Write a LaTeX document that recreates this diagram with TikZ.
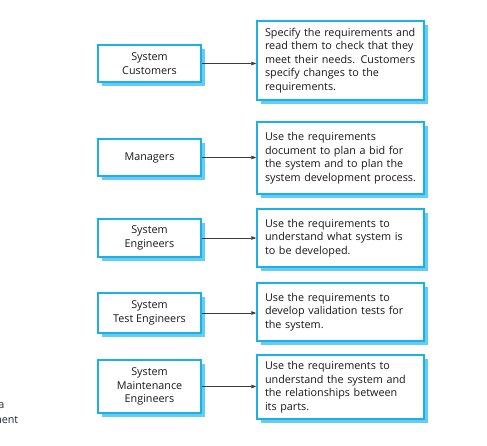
\documentclass[tikz,border=0pt]{standalone}
\usepackage{fontspec}
\setmainfont{Open Sans}
\usetikzlibrary{arrows.meta,shadows}
\definecolor{bordercyan}{HTML}{1AB0EA}
\definecolor{shadowblue}{HTML}{66CCF2}
\definecolor{txt}{HTML}{1A1718}
\definecolor{captxt}{HTML}{1F2A44}
\definecolor{arrowgray}{HTML}{3A3A3A}
\tikzset{
  box/.style={draw=bordercyan, line width=1.5pt, fill=white, rectangle, inner sep=0pt,
    drop shadow={shadow xshift=4pt, shadow yshift=-4pt, fill=shadowblue, opacity=1},
    font=\fontsize{10.8}{13.6}\selectfont, text=txt},
  rolebox/.style={box, minimum width=103pt, align=center},
  usebox/.style={box, minimum width=167pt, text width=151pt, align=left},
  link/.style={draw=arrowgray, line width=0.8pt, -{Triangle[length=5pt,width=3.5pt]}},
}
\begin{document}
\begin{tikzpicture}[x=1pt,y=-1pt]
\useasboundingbox (0,0) rectangle (487,445);
% left role boxes
\node[rolebox, minimum height=37pt] (l1) at (149.5,63.5) {System\\Customers};
\node[rolebox, minimum height=37pt] (l2) at (149.5,157.5) {Managers};
\node[rolebox, minimum height=38pt] (l3) at (149.5,238) {System\\Engineers};
\node[rolebox, minimum height=40pt] (l4) at (149.5,313) {System\\Test Engineers};
\node[rolebox, minimum height=53pt] (l5) at (149.5,386.5) {System\\Maintenance\\Engineers};
% right use boxes
\node[usebox, minimum height=79pt] (r1) at (340.5,60.5) {Specify the requirements and\\read them to check that they\\meet their needs. Customers\\specify changes to the\\requirements.};
\node[usebox, minimum height=72pt] (r2) at (340.5,158) {Use the requirements\\document to plan a bid for\\the system and to plan the\\system development process.};
\node[usebox, minimum height=58pt] (r3) at (340.5,238) {Use the requirements to\\understand what system is\\to be developed.};
\node[usebox, minimum height=58pt] (r4) at (340.5,312) {Use the requirements to\\develop validation tests for\\the system.};
\node[usebox, minimum height=64pt] (r5) at (340.5,387) {Use the requirements to\\understand the system and\\the relationships between\\its parts.};
% connectors
\draw[link] (l1.east) -- (l1.east -| r1.west);
\draw[link] (l2.east) -- (l2.east -| r2.west);
\draw[link] (l3.east) -- (l3.east -| r3.west);
\draw[link] (l4.east) -- (l4.east -| r4.west);
\draw[link] (l5.east) -- (l5.east -| r5.west);
% cropped caption fragment
\node[anchor=base east, inner sep=0pt, text=captxt, font=\fontsize{10.8}{13.6}\selectfont] (c1) at (4.5,408) {a};
\node[anchor=base east, inner sep=0pt, text=captxt, font=\fontsize{10.8}{13.6}\selectfont] (c2) at (18.5,423) {ment};
\end{tikzpicture}
\end{document}
